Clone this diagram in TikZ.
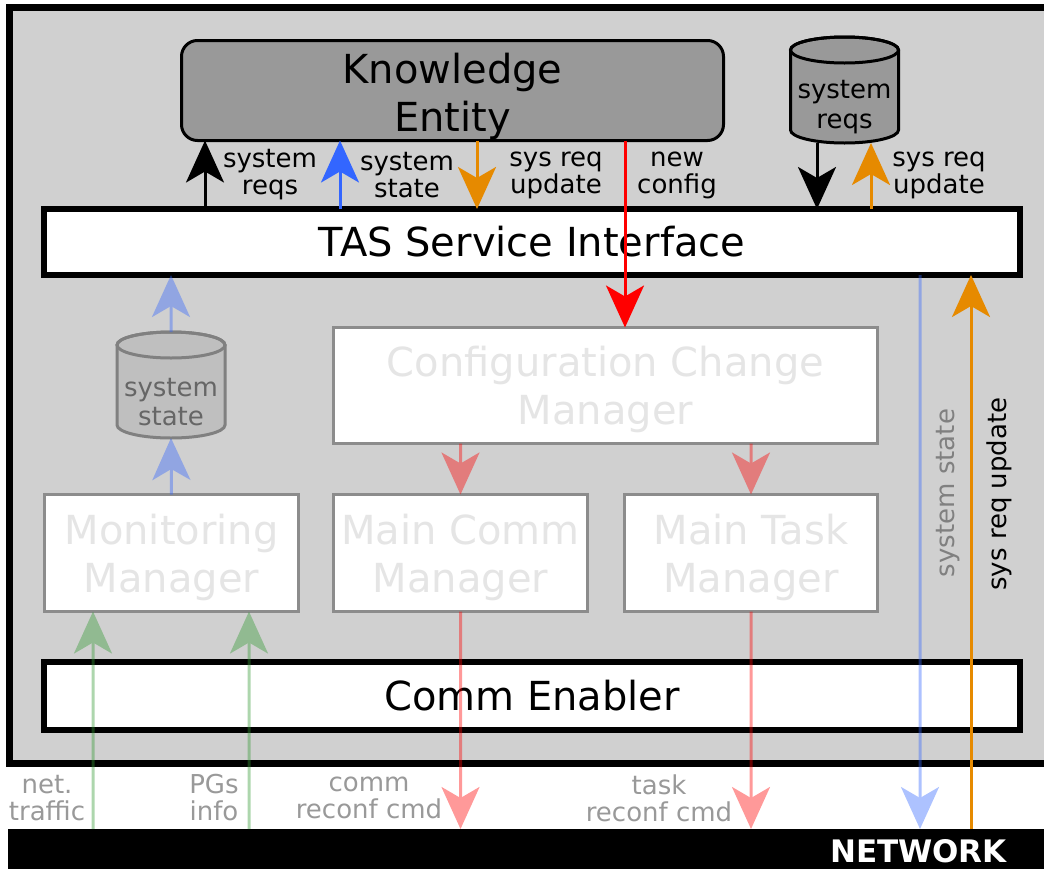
\documentclass[tikz,border=0pt]{standalone}
\usepackage{fontspec}
\setmainfont{DejaVu Sans}
\usetikzlibrary{arrows.meta,calc}

\definecolor{framegray}{HTML}{D0D0D0}
\definecolor{kegray}{HTML}{999999}
\definecolor{flowblue}{HTML}{3366FF}
\definecolor{floworange}{HTML}{E68A00}
\definecolor{flowgreen}{HTML}{339933}

\begin{document}
\begin{tikzpicture}[x=1pt, y=-1pt,
  bigfont/.style={font=\fontsize{40}{48}\selectfont},
  lblfont/.style={font=\fontsize{26}{27}\selectfont},
  solidbox/.style={draw=black, line width=6pt, fill=white, inner sep=0pt, outer sep=0pt, bigfont},
  fadedbox/.style={draw=black!45, line width=3pt, fill=white, inner sep=0pt, outer sep=0pt,
                   text=black!10, align=center, text depth=0pt, bigfont},
  lbl/.style={inner sep=0pt, align=center, lblfont},
  flow/.style={line width=3pt},
  headend/.style={-{Stealth[length=42pt, width=38pt, inset=11pt]}},
  hole/.style={inner sep=0pt, outer sep=0pt, minimum width=108pt, minimum height=106pt, align=center, lblfont},
]
\useasboundingbox (0,0) rectangle (1044,868);
\clip (0,0) rectangle (1044,868);

% enclosing frame and network bar
\draw[line width=7pt, fill=framegray] (9,7) rectangle (1090,763);
\node[fill=black, inner sep=0pt, outer sep=0pt, minimum width=1042pt, minimum height=46pt] (net) at (529,852) {};
\node[anchor=east, text=white, inner sep=0pt, font=\fontsize{31}{31}\selectfont\bfseries] (netlbl) at (1007,851) {NETWORK};

% knowledge entity and service interface
\node[draw, line width=3pt, fill=kegray, rounded corners=16pt, inner sep=0pt, outer sep=0pt,
      minimum width=542pt, minimum height=100pt] (ke) at (452.5,90.5) {};
\node[align=center, inner sep=0pt, text depth=0pt, bigfont] (ketxt) at (452.5,92) {Knowledge\\Entity};
\node[solidbox, minimum width=976pt, minimum height=66pt] (tas) at (532,242) {TAS Service Interface};
\node[solidbox, minimum width=976pt, minimum height=68pt] (ce) at (532,696) {Comm Enabler};

% managers
\node[fadedbox, minimum width=544pt, minimum height=116pt] (ccm) at (605.5,385.5) {Configuration Change\\Manager};
\node[fadedbox, minimum width=254pt, minimum height=117pt] (mon) at (171.5,553) {Monitoring\\Manager};
\node[fadedbox, minimum width=254pt, minimum height=117pt] (mcm) at (460.5,553) {Main Comm\\Manager};
\node[fadedbox, minimum width=253pt, minimum height=117pt] (mtm) at (751,553) {Main Task\\Manager};

% data stores
\node[hole] (sreq) at (844.5,90) {};
\draw[line width=3pt, fill=kegray]
  ($(sreq.north west)+(0,13)$) -- ($(sreq.south west)+(0,-13)$) arc[start angle=180, end angle=0, x radius=54, y radius=13]
  -- ($(sreq.north east)+(0,13)$) arc[start angle=0, end angle=-180, x radius=54, y radius=13] -- cycle;
\draw[line width=3pt] ($(sreq.north)+(0,13)$) ellipse[x radius=54, y radius=13];
\node[lbl, font=\fontsize{26}{30}\selectfont] (sreqtxt) at (844.5,107) {system\\reqs};

\node[hole] (sst) at (171,385) {};
\draw[line width=3pt, draw=black!50, fill=black!25]
  ($(sst.north west)+(0,13)$) -- ($(sst.south west)+(0,-13)$) arc[start angle=180, end angle=0, x radius=54, y radius=13]
  -- ($(sst.north east)+(0,13)$) arc[start angle=0, end angle=-180, x radius=54, y radius=13] -- cycle;
\draw[line width=3pt, draw=black!50] ($(sst.north)+(0,13)$) ellipse[x radius=54, y radius=13];
\node[lbl, text=black!60, font=\fontsize{26}{29}\selectfont] (ssttxt) at (171,402) {system\\state};

% column positions of the vertical flows
\coordinate (xa) at (205,0);
\coordinate (xb) at (340,0);
\coordinate (xc) at (477,0);
\coordinate (xd) at (625,0);
\coordinate (xe) at (817,0);
\coordinate (xf) at (871,0);
\coordinate (xg) at (93,0);
\coordinate (xh) at (249,0);
\coordinate (xi) at (920,0);
\coordinate (xj) at (971,0);

% flows between the knowledge entity, its store and the interface
\draw[flow, black, headend] (tas.north -| xa) -- (ke.south -| xa);
\draw[flow, flowblue, headend] (tas.north -| xb) -- (ke.south -| xb);
\draw[flow, floworange, headend] (ke.south -| xc) -- (tas.north -| xc);
\draw[flow, red, headend] (ke.south -| xd) -- (ccm.north -| xd);
\draw[flow, black, headend] (sreq.south -| xe) -- (tas.north -| xe);
\draw[flow, floworange, headend] (tas.north -| xf) -- (sreq.south -| xf);

\node[lbl] (t1) at (270,175) {system\\reqs};
\node[lbl] (t2) at (407,175) {system\\state};
\node[lbl] (t3) at (556,175) {sys req\\update};
\node[lbl] (t4) at (677,175) {new\\config};
\node[lbl] (t5) at (939,175) {sys req\\update};

% flows of the inactive (faded) layer
\begin{scope}[transparency group, opacity=0.4]
  % monitoring path
  \draw[flow, flowblue, headend] (mon.north) -- (sst.south);
  \draw[flow, flowblue, headend] (sst.north) -- (tas.south -| sst.north);
  % reconfiguration commands
  \draw[flow, red, headend] (ccm.south -| mcm.north) -- (mcm.north);
  \draw[flow, red, headend] (ccm.south -| mtm.north) -- (mtm.north);
  \draw[flow, red, headend] (mcm.south) -- (net.north -| mcm.south);
  \draw[flow, red, headend] (mtm.south) -- (net.north -| mtm.south);
  % traffic from the network
  \draw[flow, flowgreen, headend] (net.north -| xg) -- (mon.south -| xg);
  \draw[flow, flowgreen, headend] (net.north -| xh) -- (mon.south -| xh);
  % state out to the network
  \draw[flow, flowblue, headend] (tas.south -| xi) -- (net.north -| xi);
\end{scope}

% requirement updates in
\draw[flow, floworange, headend] (net.north -| xj) -- (tas.south -| xj);

\node[lbl, text=black!50, rotate=90] (r1) at (948,493) {system state};
\node[lbl, rotate=90] (r2) at (999,494) {sys req update};

% labels above the network
\node[lbl, text=black!40] (b1) at (47,798) {net.\\traffic};
\node[lbl, text=black!40] (b2) at (214,798) {PGs\\info};
\node[lbl, text=black!40] (b3) at (369,798) {comm\\reconf cmd};
\node[lbl, text=black!40] (b4) at (659,798) {task\\reconf cmd};
\end{tikzpicture}
\end{document}
